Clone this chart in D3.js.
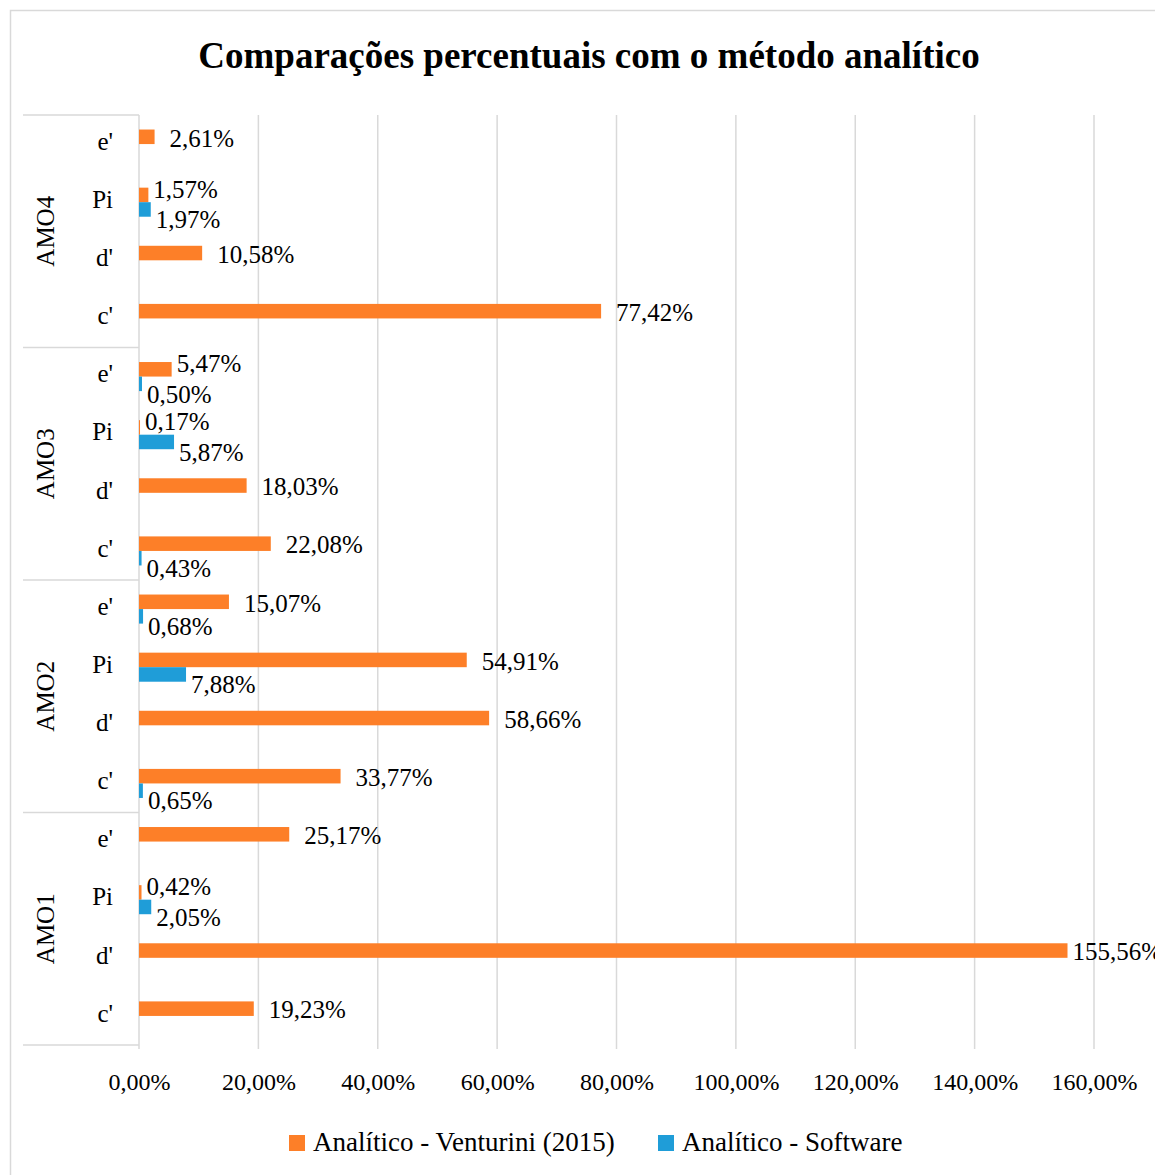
<!DOCTYPE html>
<html>
<head>
<meta charset="utf-8">
<script src="https://cdn.jsdelivr.net/npm/d3@7/dist/d3.min.js"></script>
<style>
  html, body { margin: 0; padding: 0; background: #fff; }
  svg { display: block; }
  text { font-family: "Liberation Serif", "DejaVu Serif", serif; fill: #000; }
</style>
</head>
<body>
<svg id="chart" width="1155" height="1175"></svg>
<script>
// Groups (top to bottom) and the sub-categories inside each group
const groups = ["AMO4", "AMO3", "AMO2", "AMO1"];
const subCategories = ["e'", "Pi", "d'", "c'"];

// Percent differences (fractions); null = no bar for that series
const venturini = [
  // AMO4
  0.0261, 0.0157, 0.1058, 0.7742,
  // AMO3
  0.0547, 0.0017, 0.1803, 0.2208,
  // AMO2
  0.1507, 0.5491, 0.5866, 0.3377,
  // AMO1
  0.2517, 0.0042, 1.5556, 0.1923
];
const software = [
  // AMO4
  null, 0.0197, null, null,
  // AMO3
  0.0050, 0.0587, null, 0.0043,
  // AMO2
  0.0068, 0.0788, null, 0.0065,
  // AMO1
  null, 0.0205, null, null
];
const xTicks = [0, 0.2, 0.4, 0.6, 0.8, 1.0, 1.2, 1.4, 1.6];

const seriesNames = ["Analítico - Venturini (2015)", "Analítico - Software"];
const seriesColors = ["#FD7F28", "#1F9DD8"];
const title = "Comparações percentuais com o método analítico";

// ---- layout ----
const W = 1155, H = 1175;
const plot = { left: 139, right: 1094, top: 115, bottom: 1045 };

const svg = d3.select("#chart");
const locale = d3.formatLocale({ decimal: ",", thousands: ".", grouping: [3], currency: ["", ""] });
const pct = locale.format(".2%");

// Outer frame
svg.append("rect")
  .attr("x", 10.5).attr("y", 10.5)
  .attr("width", W + 20).attr("height", H + 20)
  .attr("fill", "#fff").attr("stroke", "#d9d9d9").attr("stroke-width", 1.5);

// Title
svg.append("text")
  .attr("x", 589).attr("y", 68)
  .attr("text-anchor", "middle")
  .attr("font-weight", "bold")
  .attr("font-size", 37)
  .text(title);

// Flattened category keys
const rows = [];
groups.forEach((g, gi) => subCategories.forEach((s, si) => {
  const i = gi * subCategories.length + si;
  rows.push({ key: g + "|" + s, group: g, sub: s, v: [venturini[i], software[i]] });
}));

const x = d3.scaleLinear().domain([0, 1.6]).range([plot.left, plot.right]);
const y = d3.scaleBand().domain(rows.map(r => r.key)).range([plot.top, plot.bottom])
  .paddingInner(0.5).paddingOuter(0.25);
const ySeries = d3.scaleBand().domain([0, 1]).range([0, y.bandwidth()]);
const step = y.step();

// Vertical gridlines
svg.append("g").selectAll("line").data(xTicks).join("line")
  .attr("x1", d => x(d)).attr("x2", d => x(d))
  .attr("y1", plot.top).attr("y2", plot.bottom + 4)
  .attr("stroke", "#d9d9d9").attr("stroke-width", 1.5);

// Category-axis tree lines (group separators)
const groupEdges = d3.range(groups.length + 1).map(i => plot.top + i * step * subCategories.length);
svg.append("g").selectAll("line").data(groupEdges).join("line")
  .attr("x1", 23).attr("x2", plot.left)
  .attr("y1", d => d).attr("y2", d => d)
  .attr("stroke", "#d9d9d9").attr("stroke-width", 1.5);

// X axis tick labels
const xAxis = d3.axisBottom(x).tickValues(xTicks).tickFormat(pct).tickSize(0).tickPadding(0);
const gx = svg.append("g").attr("transform", `translate(0,${plot.bottom})`).call(xAxis);
gx.select(".domain").remove();
gx.selectAll("text")
  .attr("y", 37).attr("dy", "0.35em")
  .attr("font-size", 24)
  .attr("font-family", "Liberation Serif, serif")
  .attr("fill", "#000");

// Sub-category labels
svg.append("g").selectAll("text").data(rows).join("text")
  .attr("x", 113)
  .attr("y", r => y(r.key) + y.bandwidth() / 2 - 3)
  .attr("dy", "0.35em")
  .attr("text-anchor", "end")
  .attr("font-size", 25)
  .text(r => r.sub);

// Group labels (rotated)
svg.append("g").selectAll("text").data(groups).join("text")
  .attr("transform", (g, i) => `translate(45,${(groupEdges[i] + groupEdges[i + 1]) / 2}) rotate(-90)`)
  .attr("dy", "0.35em")
  .attr("text-anchor", "middle")
  .attr("font-size", 25)
  .text(g => g);

// Bars
const barData = [];
rows.forEach(r => r.v.forEach((v, s) => {
  if (v !== null) barData.push({ row: r, s, v });
}));

svg.append("g").selectAll("rect").data(barData).join("rect")
  .attr("x", x(0))
  .attr("y", d => y(d.row.key) + ySeries(d.s))
  .attr("width", d => Math.max(1, x(d.v) - x(0)))
  .attr("height", ySeries.bandwidth())
  .attr("fill", d => seriesColors[d.s]);

// Data labels
const labels = svg.append("g").selectAll("text").data(barData).join("text")
  .attr("font-size", 25)
  .attr("dy", "0.35em")
  .text(d => pct(d.v));

labels.each(function (d) {
  const t = d3.select(this);
  const end = x(d.v);
  const cy = y(d.row.key) + ySeries(d.s) + ySeries.bandwidth() / 2;
  const hasPair = d.row.v[0] !== null && d.row.v[1] !== null;
  if (d.s === 1) {
    // software labels sit just under their bar
    t.attr("x", end + 5).attr("y", cy + 10);
  } else if (hasPair && d.v < 0.1) {
    // short orange bar with a companion: lift the label clear of the blue one
    t.attr("x", end + 5).attr("y", cy - 6);
  } else {
    const w = this.getComputedTextLength();
    const off = end + 15 + w > W ? 5 : 15;
    t.attr("x", end + off).attr("y", cy + 1);
  }
});

// Legend
const legend = svg.append("g");
const legendItems = [{ x: 289, i: 0 }, { x: 658, i: 1 }];
legendItems.forEach(it => {
  legend.append("rect")
    .attr("x", it.x).attr("y", 1135)
    .attr("width", 16).attr("height", 16)
    .attr("fill", seriesColors[it.i]);
  legend.append("text")
    .attr("x", it.x + 24).attr("y", 1142)
    .attr("dy", "0.35em")
    .attr("font-size", 27)
    .text(seriesNames[it.i]);
});
</script>
</body>
</html>
